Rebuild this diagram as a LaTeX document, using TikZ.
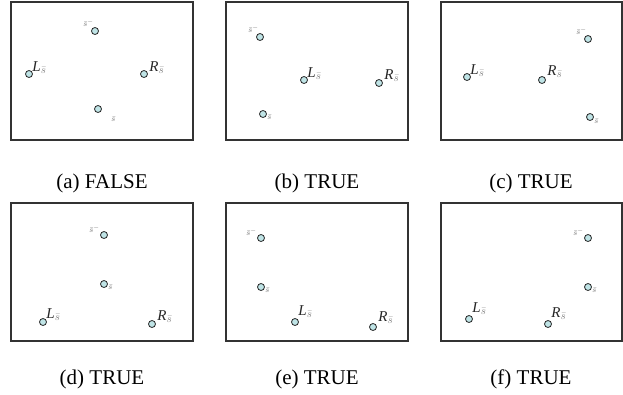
\documentclass[tikz,border=0pt]{standalone}
\usepackage{fontspec}
\setmainfont{Liberation Serif}
\usetikzlibrary{positioning}
\definecolor{dotfill}{HTML}{BFE4E6}
\newcommand{\lbar}[1]{\textit{#1}\textsubscript{\color{black!50}$\bar{s}$}}

\begin{document}
\begin{tikzpicture}[x=1pt, y=-1pt,
    frame/.style={draw=black!80, line width=1.1pt},
    pt/.style={circle, draw=black!85, fill=dotfill, line width=0.8pt,
      minimum size=7pt, inner sep=0pt},
    lab/.style={font=\fontsize{15}{15}\selectfont, text=black!85, inner sep=0.5pt},
    slab/.style={font=\fontsize{8.5}{8.5}\selectfont, text=black!58, inner sep=0.5pt},
    subcap/.style={font=\fontsize{21}{24}\selectfont, anchor=base}
  ]
  \useasboundingbox (0,0) rectangle (623,394);

  % (a)
  \begin{scope}[shift={(11,2)}]
    \draw[frame] (0,0) rectangle (182,138);
    \node[pt] (aT) at (84,29) {};
    \node[pt] (aL) at (18,72) {};
    \node[pt] (aR) at (133,72) {};
    \node[pt] (aS) at (87,107) {};
  \end{scope}
  \node[slab, above left=1pt and -2pt of aT] {$\bar{s}^{-}$};
  \node[lab, above right=-3pt and 0pt of aL] {\lbar{L}};
  \node[lab, above right=-3pt and 2pt of aR] {\lbar{R}};
  \node[slab, below right=4pt and 10pt of aS] {$\bar{s}$};
  \node[subcap] (capA) at (102,188) {(a) FALSE};

  % (b)
  \begin{scope}[shift={(226,2)}]
    \draw[frame] (0,0) rectangle (182,138);
    \node[pt] (bT) at (34,35) {};
    \node[pt] (bL) at (78,78) {};
    \node[pt] (bR) at (153,81) {};
    \node[pt] (bS) at (37,112) {};
  \end{scope}
  \node[slab, above left=1pt and -2pt of bT] {$\bar{s}^{-}$};
  \node[lab, above right=-3pt and 0pt of bL] {\lbar{L}};
  \node[lab, above right=-2pt and 2pt of bR] {\lbar{R}};
  \node[slab, below right=-3pt and 1pt of bS] {$\bar{s}$};
  \node[subcap] (capB) at (317,188) {(b) TRUE};

  % (c)
  \begin{scope}[shift={(441,2)}]
    \draw[frame] (0,0) rectangle (181,138);
    \node[pt] (cT) at (147,37) {};
    \node[pt] (cL) at (26,75) {};
    \node[pt] (cR) at (101,78) {};
    \node[pt] (cS) at (149,115) {};
  \end{scope}
  \node[slab, above left=1pt and -2pt of cT] {$\bar{s}^{-}$};
  \node[lab, above right=-3pt and 0pt of cL] {\lbar{L}};
  \node[lab, above right=-1pt and 2pt of cR] {\lbar{R}};
  \node[slab, below right=-2pt and 1pt of cS] {$\bar{s}$};
  \node[subcap] (capC) at (531,188) {(c) TRUE};

  % (d)
  \begin{scope}[shift={(11,203)}]
    \draw[frame] (0,0) rectangle (182,138);
    \node[pt] (dT) at (93,32) {};
    \node[pt] (dS) at (93,81) {};
    \node[pt] (dL) at (32,119) {};
    \node[pt] (dR) at (141,121) {};
  \end{scope}
  \node[slab, above left=-1pt and 1pt of dT] {$\bar{s}^{-}$};
  \node[slab, below right=-3pt and 1pt of dS] {$\bar{s}$};
  \node[lab, above right=-2pt and 0pt of dL] {\lbar{L}};
  \node[lab, above right=-2pt and 2pt of dR] {\lbar{R}};
  \node[subcap] (capD) at (102,384) {(d) TRUE};

  % (e)
  \begin{scope}[shift={(226,203)}]
    \draw[frame] (0,0) rectangle (182,138);
    \node[pt] (eT) at (35,35) {};
    \node[pt] (eS) at (35,84) {};
    \node[pt] (eL) at (69,119) {};
    \node[pt] (eR) at (147,124) {};
  \end{scope}
  \node[slab, above left=-1pt and 1pt of eT] {$\bar{s}^{-}$};
  \node[slab, below right=-3pt and 1pt of eS] {$\bar{s}$};
  \node[lab, above right=1pt and 0pt of eL] {\lbar{L}};
  \node[lab, above right=0pt and 2pt of eR] {\lbar{R}};
  \node[subcap] (capE) at (317,384) {(e) TRUE};

  % (f)
  \begin{scope}[shift={(441,203)}]
    \draw[frame] (0,0) rectangle (181,138);
    \node[pt] (fT) at (147,35) {};
    \node[pt] (fS) at (147,84) {};
    \node[pt] (fL) at (28,116) {};
    \node[pt] (fR) at (107,121) {};
  \end{scope}
  \node[slab, above left=-1pt and 1pt of fT] {$\bar{s}^{-}$};
  \node[slab, below right=-3pt and 1pt of fS] {$\bar{s}$};
  \node[lab, above right=1pt and 0pt of fL] {\lbar{L}};
  \node[lab, above right=1pt and 0pt of fR] {\lbar{R}};
  \node[subcap] (capF) at (531,384) {(f) TRUE};
\end{tikzpicture}
\end{document}
